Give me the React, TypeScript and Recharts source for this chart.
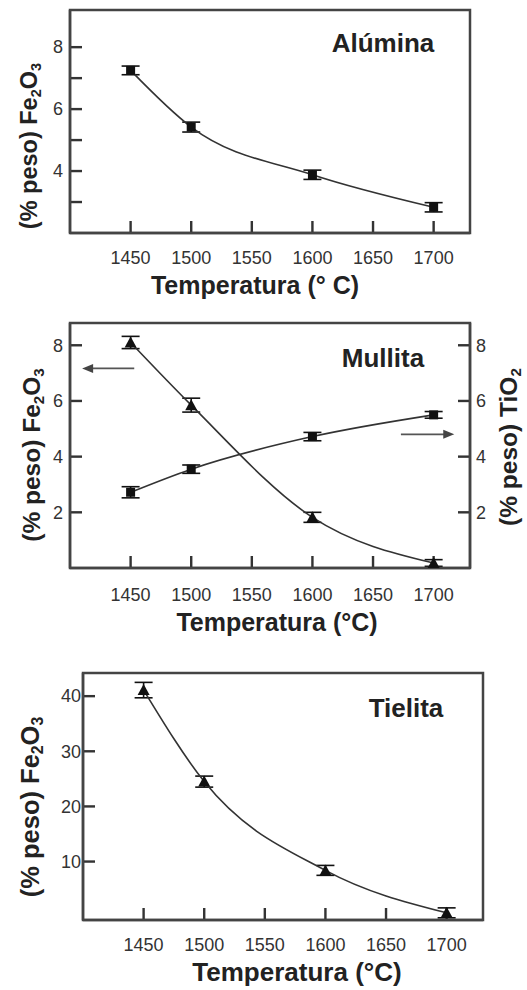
import React from 'react';
import { LineChart, Line, XAxis, YAxis, ErrorBar, Label, ReferenceLine, ReferenceArea } from 'recharts';

// temperatures (°C) of the measured points and the axis ticks
const temps = [1450, 1500, 1600, 1700];
const xTicks = [1450, 1500, 1550, 1600, 1650, 1700];

// Alúmina: Fe2O3 (% peso)
const aluminaFe = [7.25, 5.42, 3.88, 2.83];
const aluminaErr = [0.14, 0.16, 0.15, 0.15];
const aluminaTicks = [3, 4, 5, 6, 7, 8];

// Mullita: Fe2O3 (left axis) and TiO2 (right axis)
const mullitaFe = [8.1, 5.85, 1.82, 0.18];
const mullitaFeErr = [0.22, 0.25, 0.18, 0.12];
const mullitaTi = [2.72, 3.55, 4.72, 5.5];
const mullitaTiErr = [0.2, 0.15, 0.15, 0.12];
const mullitaTicks = [2, 4, 6, 8];

// Tielita: Fe2O3 (% peso)
const tielitaFe = [41.1, 24.5, 8.4, 0.7];
const tielitaErr = [1.4, 1.0, 0.9, 0.9];
const tielitaTicks = [10, 20, 30, 40];

const aluminaData = temps.map((t, i) => ({ t, fe: aluminaFe[i], err: aluminaErr[i] }));
const mullitaData = temps.map((t, i) => ({
  t,
  fe: mullitaFe[i],
  feErr: mullitaFeErr[i],
  ti: mullitaTi[i],
  tiErr: mullitaTiErr[i],
}));
const tielitaData = temps.map((t, i) => ({ t, fe: tielitaFe[i], err: tielitaErr[i] }));

const FONT = '"Liberation Sans", Arial, Helvetica, sans-serif';
const AXIS = '#444';
const INK = '#222';
const X_DOMAIN = [1400, 1730];
const ALUMINA_Y = [2, 9.2];
const MULLITA_Y = [0, 8.8];
const TIELITA_Y = [-0.6, 44.2];
const MARK = 12; // inward tick length
const MARK_COLOR = '#333';

// plot boxes (chart-local px) for placing the tick labels
const BOX1 = { left: 70, right: 470, bottom: 233 };
const BOX2 = { left: 70, right: 470, bottom: 258 };
const BOX3 = { left: 83, right: 483, bottom: 270 };

const tickText = { fontSize: 18, fill: '#333', fontFamily: FONT };

// tick labels only; the tick marks are drawn inside the box with reference lines
const renderXTick = (p: any, bottom: number, gap: number) => (
  <text x={p.x} y={bottom + gap} dy="0.35em" textAnchor="middle" {...tickText}>
    {p.payload.value}
  </text>
);

const renderLeftTick = (p: any, left: number, gap: number, labelled: (v: number) => boolean) =>
  labelled(p.payload.value) ? (
    <text x={left - gap} y={p.y} dy="0.35em" textAnchor="end" {...tickText}>
      {p.payload.value}
    </text>
  ) : (
    <g />
  );

const renderRightTick = (p: any, right: number, gap: number) => (
  <text x={right + gap} y={p.y} dy="0.35em" textAnchor="start" {...tickText}>
    {p.payload.value}
  </text>
);

const BottomMark = (p: any) => {
  const yb = Math.max(p.y1, p.y2);
  return <rect x={p.x1 - 1.2} y={yb - MARK} width={2.4} height={MARK} fill={MARK_COLOR} />;
};

const LeftMark = (p: any) => {
  const xl = Math.min(p.x1, p.x2);
  return <rect x={xl} y={p.y1 - 1.2} width={MARK} height={2.4} fill={MARK_COLOR} />;
};

const BothMarks = (p: any) => {
  const xl = Math.min(p.x1, p.x2);
  const xr = Math.max(p.x1, p.x2);
  return (
    <g>
      <rect x={xl} y={p.y1 - 1.2} width={MARK} height={2.4} fill={MARK_COLOR} />
      <rect x={xr - MARK} y={p.y1 - 1.2} width={MARK} height={2.4} fill={MARK_COLOR} />
    </g>
  );
};

const SquareDot = (props: any) => {
  const { cx, cy, index } = props;
  if (cx == null || cy == null) return <g key={`s-${index}`} />;
  return <rect key={`s-${index}`} x={cx - 4.5} y={cy - 4.5} width={9} height={9} fill="#111" />;
};

const TriangleDot = (props: any) => {
  const { cx, cy, index } = props;
  if (cx == null || cy == null) return <g key={`t-${index}`} />;
  return (
    <polygon
      key={`t-${index}`}
      points={`${cx},${cy - 6} ${cx - 6},${cy + 5} ${cx + 6},${cy + 5}`}
      fill="#111"
    />
  );
};

const Arrow = (p: any) => {
  const { x1, y1, x2, y2 } = p;
  const dir = Math.sign(x2 - x1);
  return (
    <g>
      <line x1={x1} y1={y1} x2={x2 - dir * 8} y2={y2} stroke="#555" strokeWidth={1.8} />
      <polygon points={`${x2},${y2} ${x2 - dir * 11},${y2 - 4.5} ${x2 - dir * 11},${y2 + 4.5}`} fill="#444" />
    </g>
  );
};

const Title = ({ x, y, text, size = 26 }: any) => (
  <text x={x} y={y} textAnchor="middle" dominantBaseline="central" fontSize={size} fontWeight="bold" fill={INK} fontFamily={FONT}>
    {text}
  </text>
);

const RotatedTitle = ({ x, y, size, name, a, b, c }: any) => {
  const sub = size * 0.62;
  const shift = size * 0.28;
  return (
    <text
      x={x}
      y={y}
      transform={`rotate(-90, ${x}, ${y})`}
      textAnchor="middle"
      dominantBaseline="central"
      fontSize={size}
      fontWeight="bold"
      fill={INK}
      fontFamily={FONT}
    >
      {`(% peso) ${name}`}
      {a && <tspan fontSize={sub} dy={shift}>{a}</tspan>}
      {b && <tspan dy={a ? -shift : 0}>{b}</tspan>}
      {c && <tspan fontSize={sub} dy={shift}>{c}</tspan>}
    </text>
  );
};

const lineProps = {
  type: 'monotone' as const,
  stroke: '#333',
  strokeWidth: 1.6,
  isAnimationActive: false,
};

const errProps = {
  width: 9,
  stroke: '#111',
  strokeWidth: 1.6,
  direction: 'y' as const,
  isAnimationActive: false,
};

const frame = { stroke: AXIS, strokeWidth: 2.5 };

const boxProps = {
  fill: 'none',
  fillOpacity: 0,
  stroke: AXIS,
  strokeWidth: 2.5,
  ifOverflow: 'visible' as const,
};

const App: React.FC = () => {
  return (
    <div style={{ position: 'absolute', left: 0, top: 0, width: 527, height: 990, background: '#fff' }}>
      {/* Alúmina */}
      <div style={{ position: 'absolute', left: 0, top: 0 }}>
        <LineChart width={527} height={300} data={aluminaData} margin={{ top: 10, right: 57, left: 0, bottom: 0 }}>
          <XAxis
            dataKey="t"
            type="number"
            domain={X_DOMAIN}
            ticks={xTicks}
            interval={0}
            height={67}
            tickLine={false}
            axisLine={frame}
            tick={(p: any) => renderXTick(p, BOX1.bottom, 25)}
          >
            <Label content={() => <Title x={255} y={285} size={25} text="Temperatura (° C)" />} />
          </XAxis>
          <YAxis
            type="number"
            domain={ALUMINA_Y}
            ticks={aluminaTicks}
            interval={0}
            width={70}
            tickLine={false}
            axisLine={frame}
            tick={(p: any) => renderLeftTick(p, BOX1.left, 7, (v) => v % 2 === 0)}
          >
            <Label content={() => <RotatedTitle x={29} y={146} size={23.5} name="Fe" a="2" b="O" c="3" />} />
          </YAxis>
          <ReferenceArea x1={X_DOMAIN[0]} x2={X_DOMAIN[1]} y1={ALUMINA_Y[0]} y2={ALUMINA_Y[1]} {...boxProps}>
            <Label content={() => <Title x={383} y={43} text="Alúmina" />} />
          </ReferenceArea>
          {xTicks.map((v) => (
            <ReferenceLine key={`x${v}`} x={v} ifOverflow="visible" shape={BottomMark} />
          ))}
          {aluminaTicks.map((v) => (
            <ReferenceLine key={`y${v}`} y={v} ifOverflow="visible" shape={LeftMark} />
          ))}
          <Line dataKey="fe" {...lineProps} dot={SquareDot}>
            <ErrorBar dataKey="err" {...errProps} />
          </Line>
        </LineChart>
      </div>

      {/* Mullita */}
      <div style={{ position: 'absolute', left: 0, top: 310 }}>
        <LineChart width={527} height={330} data={mullitaData} margin={{ top: 13, right: 56, left: 0, bottom: 0 }}>
          <XAxis
            dataKey="t"
            type="number"
            domain={X_DOMAIN}
            ticks={xTicks}
            interval={0}
            height={72}
            tickLine={false}
            axisLine={frame}
            tick={(p: any) => renderXTick(p, BOX2.bottom, 27)}
          >
            <Label content={() => <Title x={277} y={312} size={25} text="Temperatura (°C)" />} />
          </XAxis>
          <YAxis
            yAxisId="left"
            type="number"
            domain={MULLITA_Y}
            ticks={mullitaTicks}
            interval={0}
            width={70}
            tickLine={false}
            axisLine={frame}
            tick={(p: any) => renderLeftTick(p, BOX2.left, 7, () => true)}
          >
            <Label content={() => <RotatedTitle x={31} y={145} size={24.5} name="Fe" a="2" b="O" c="3" />} />
          </YAxis>
          <YAxis
            yAxisId="right"
            orientation="right"
            type="number"
            domain={MULLITA_Y}
            ticks={mullitaTicks}
            interval={0}
            width={1}
            tickLine={false}
            axisLine={frame}
            tick={(p: any) => renderRightTick(p, BOX2.right, 6)}
          >
            <Label content={() => <RotatedTitle x={508} y={137} size={24.5} name="TiO" c="2" />} />
          </YAxis>
          <ReferenceArea yAxisId="left" x1={X_DOMAIN[0]} x2={X_DOMAIN[1]} y1={MULLITA_Y[0]} y2={MULLITA_Y[1]} {...boxProps}>
            <Label content={() => <Title x={383} y={48} text="Mullita" />} />
          </ReferenceArea>
          {xTicks.map((v) => (
            <ReferenceLine key={`x${v}`} yAxisId="left" x={v} ifOverflow="visible" shape={BottomMark} />
          ))}
          {mullitaTicks.map((v) => (
            <ReferenceLine key={`y${v}`} yAxisId="left" y={v} ifOverflow="visible" shape={BothMarks} />
          ))}
          <ReferenceLine
            yAxisId="left"
            segment={[{ x: 1453, y: 7.17 }, { x: 1410, y: 7.17 }]}
            shape={Arrow}
          />
          <ReferenceLine
            yAxisId="right"
            segment={[{ x: 1673, y: 4.8 }, { x: 1717, y: 4.8 }]}
            shape={Arrow}
          />
          <Line yAxisId="left" dataKey="fe" {...lineProps} dot={TriangleDot}>
            <ErrorBar dataKey="feErr" {...errProps} />
          </Line>
          <Line yAxisId="right" dataKey="ti" {...lineProps} dot={SquareDot}>
            <ErrorBar dataKey="tiErr" {...errProps} />
          </Line>
        </LineChart>
      </div>

      {/* Tielita */}
      <div style={{ position: 'absolute', left: 0, top: 650 }}>
        <LineChart width={527} height={340} data={tielitaData} margin={{ top: 23, right: 44, left: 0, bottom: 0 }}>
          <XAxis
            dataKey="t"
            type="number"
            domain={X_DOMAIN}
            ticks={xTicks}
            interval={0}
            height={70}
            tickLine={false}
            axisLine={frame}
            tick={(p: any) => renderXTick(p, BOX3.bottom, 25)}
          >
            <Label content={() => <Title x={297} y={322} size={26} text="Temperatura (°C)" />} />
          </XAxis>
          <YAxis
            type="number"
            domain={TIELITA_Y}
            ticks={tielitaTicks}
            interval={0}
            width={83}
            tickLine={false}
            axisLine={frame}
            tick={(p: any) => renderLeftTick(p, BOX3.left, 2, () => true)}
          >
            <Label content={() => <RotatedTitle x={30} y={157} size={25.5} name="Fe" a="2" b="O" c="3" />} />
          </YAxis>
          <ReferenceArea x1={X_DOMAIN[0]} x2={X_DOMAIN[1]} y1={TIELITA_Y[0]} y2={TIELITA_Y[1]} {...boxProps}>
            <Label content={() => <Title x={406} y={58} text="Tielita" />} />
          </ReferenceArea>
          {xTicks.map((v) => (
            <ReferenceLine key={`x${v}`} x={v} ifOverflow="visible" shape={BottomMark} />
          ))}
          {tielitaTicks.map((v) => (
            <ReferenceLine key={`y${v}`} y={v} ifOverflow="visible" shape={LeftMark} />
          ))}
          <Line dataKey="fe" {...lineProps} dot={TriangleDot}>
            <ErrorBar dataKey="err" {...errProps} />
          </Line>
        </LineChart>
      </div>
    </div>
  );
};

export default App;
